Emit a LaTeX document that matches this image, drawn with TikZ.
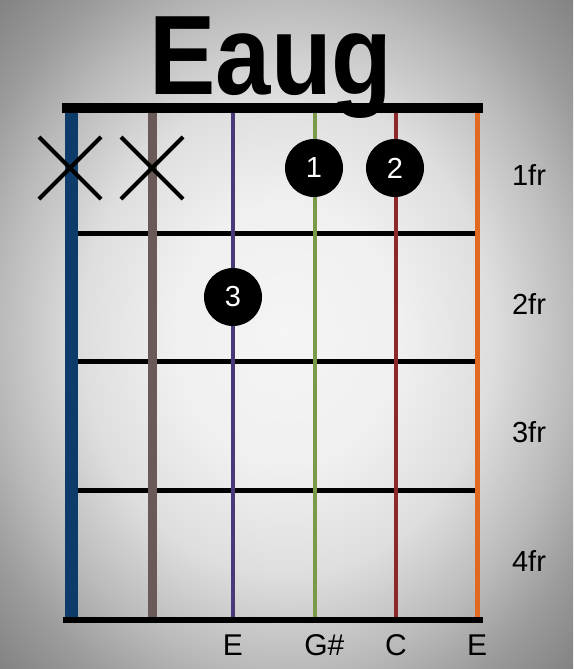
\documentclass[tikz,border=0pt]{standalone}
\usepackage{fontspec}
\setmainfont{Liberation Sans}
\definecolor{strA}{RGB}{14,60,106}
\definecolor{strB}{RGB}{105,90,88}
\definecolor{strC}{RGB}{72,58,120}
\definecolor{strD}{RGB}{122,154,74}
\definecolor{strE}{RGB}{140,40,42}
\definecolor{strF}{RGB}{226,106,32}
\pgfdeclareradialshading{vignette}{\pgfpoint{0bp}{0bp}}{%
  color(0bp)=(white!96!black); color(10bp)=(white!94!black);
  color(18bp)=(white!87!black); color(25bp)=(white!73!black);
  color(30bp)=(white!61!black); color(36bp)=(white!50!black);
  color(50bp)=(white!50!black)}

\begin{document}
\begin{tikzpicture}[
    x=1pt, y=-1pt,
    fretlbl/.style={font=\fontsize{29}{29}\selectfont, anchor=base},
    notelbl/.style={font=\fontsize{30}{30}\selectfont, anchor=base},
    finger/.style={circle, fill=black, minimum size=58pt, inner sep=0pt,
        text=white, font=\fontsize{29}{29}\selectfont},
    fret/.style={line width=5pt},
    mute/.style={line width=4pt}
]
    \useasboundingbox (0,0) rectangle (573,669);
    \shade[shading=vignette] (0,0) rectangle (573,669);

    % title
    \node[font=\bfseries\fontsize{113}{113}\selectfont, anchor=base, xscale=0.88, inner sep=0pt] (title) at (271,94) {Eaug};

    % frets, strings, nut
    \foreach \y in {233,361,490}
        \draw[fret] (71,\y) -- (477,\y);
    \foreach \x/\c/\w in {71/strA/13, 152/strB/9, 233/strC/4, 315/strD/3.5, 396/strE/4, 477/strF/5}
        \draw[\c, line width=\w pt] (\x,113) -- (\x,617);
    \fill (62,103) rectangle (483,113);
    \fill (63,617) rectangle (483,623);

    % muted strings
    \foreach \x in {70,152}
        \draw[mute] (\x,168) +(-31,-31) -- +(31,31) +(-31,31) -- +(31,-31);

    % fingers
    \node[finger] (f1) at (314,168) {1};
    \node[finger] (f2) at (395,168) {2};
    \node[finger] (f3) at (233,297) {3};

    % fret numbers
    \node[fretlbl] (fr1) at (529,185) {1fr};
    \node[fretlbl] (fr2) at (529,314) {2fr};
    \node[fretlbl] (fr3) at (529,442) {3fr};
    \node[fretlbl] (fr4) at (529,571) {4fr};

    % notes
    \node[notelbl] (n3) at (233,655) {E};
    \node[notelbl] (n4) at (316,655) {G\rlap{\#}};
    \node[notelbl] (n5) at (396,655) {C};
    \node[notelbl] (n6) at (477,655) {E};
\end{tikzpicture}
\end{document}
